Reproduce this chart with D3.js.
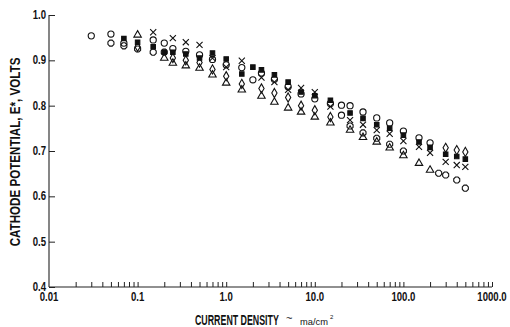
<!DOCTYPE html>
<html>
<head>
<meta charset="utf-8">
<script src="https://cdn.jsdelivr.net/npm/d3@7"></script>
<style>
  html, body { margin: 0; padding: 0; background: #fff; }
  svg { display: block; }
  .lbl { font-family: "Liberation Sans", Arial, sans-serif; font-weight: bold; fill: #111; }
  .unit { font-family: "Liberation Sans", Arial, sans-serif; fill: #111; }
</style>
</head>
<body>
<svg id="chart" width="510" height="327"></svg>
<script>
// Polarization data: cathode potential (V) versus current density (mA/cm²)
const xTickValues = [0.01, 0.1, 1, 10, 100, 1000];
const xTickLabels = ["0.01", "0.1", "1.0", "10.0", "100.0", "1000.0"];
const yTickValues = [0.4, 0.5, 0.6, 0.7, 0.8, 0.9, 1.0];
const yTickLabels = ["0.4", "0.5", "0.6", "0.7", "0.8", "0.9", "1.0"];

const circleX = [0.03, 0.05, 0.07, 0.15, 0.2, 0.25, 0.35, 0.5, 0.7, 1, 1.5, 2, 2.5, 3.5, 5, 7, 10, 15, 20, 20, 25, 35, 50, 70, 100, 150, 200];
const circleY = [0.954, 0.958, 0.938, 0.945, 0.938, 0.926, 0.920, 0.912, 0.902, 0.890, 0.884, 0.857, 0.872, 0.858, 0.842, 0.826, 0.815, 0.805, 0.801, 0.779, 0.800, 0.786, 0.773, 0.762, 0.744, 0.729, 0.718];

const squareX = [0.07, 0.1, 0.15, 0.2, 0.25, 0.35, 0.5, 0.7, 1, 1.5, 2, 2.5, 3.5, 5, 7, 10, 15, 25, 35, 50, 70, 100, 150, 200, 300, 400, 500];
const squareY = [0.948, 0.940, 0.930, 0.918, 0.918, 0.914, 0.905, 0.916, 0.903, 0.870, 0.885, 0.879, 0.868, 0.852, 0.830, 0.822, 0.812, 0.784, 0.772, 0.758, 0.750, 0.735, 0.720, 0.708, 0.693, 0.688, 0.682];

const crossX = [0.15, 0.25, 0.35, 0.5, 0.7, 1, 1.5, 2.5, 3.5, 5, 7, 10, 15, 25, 35, 50, 70, 100, 150, 200, 300, 400, 500];
const crossY = [0.962, 0.949, 0.940, 0.934, 0.905, 0.885, 0.899, 0.862, 0.852, 0.835, 0.839, 0.830, 0.798, 0.768, 0.758, 0.746, 0.738, 0.722, 0.709, 0.696, 0.676, 0.669, 0.665];

const diamondX = [0.1, 0.25, 0.35, 0.5, 0.7, 1, 1.5, 2.5, 3.5, 5, 7, 10, 15, 300, 400, 500];
const diamondY = [0.930, 0.905, 0.900, 0.895, 0.880, 0.865, 0.848, 0.838, 0.828, 0.818, 0.800, 0.790, 0.775, 0.707, 0.702, 0.698];

const triangleX = [0.1, 0.2, 0.25, 0.35, 0.5, 0.7, 1, 1.5, 2.5, 3.5, 5, 7, 10, 15, 25, 35, 50, 70, 100, 150, 200];
const triangleY = [0.956, 0.905, 0.894, 0.888, 0.883, 0.868, 0.850, 0.835, 0.821, 0.808, 0.795, 0.786, 0.775, 0.762, 0.746, 0.730, 0.720, 0.707, 0.690, 0.673, 0.658];

const octagonX = [0.05, 0.07, 0.1, 0.15, 0.2, 25, 35, 50, 70, 100, 250, 300, 400, 500];
const octagonY = [0.938, 0.932, 0.925, 0.918, 0.918, 0.755, 0.740, 0.728, 0.715, 0.700, 0.651, 0.647, 0.636, 0.618];

// open octagon marker
const symbolOctagon = {
  draw(context, size) {
    const r = Math.sqrt(size / 2.83);
    for (let i = 0; i < 8; i++) {
      const a = Math.PI / 8 + i * Math.PI / 4;
      const px = r * Math.cos(a), py = r * Math.sin(a);
      if (i === 0) context.moveTo(px, py); else context.lineTo(px, py);
    }
    context.closePath();
  }
};

const series = [
  { xs: circleX,   ys: circleY,   type: d3.symbolCircle,   size: 30, fill: "none" },
  { xs: squareX,   ys: squareY,   type: d3.symbolSquare,   size: 20, fill: "#111" },
  { xs: crossX,    ys: crossY,    type: d3.symbolTimes,    size: 26, fill: "none" },
  { xs: diamondX,  ys: diamondY,  type: d3.symbolDiamond,  size: 24, fill: "none" },
  { xs: triangleX, ys: triangleY, type: d3.symbolTriangle, size: 24, fill: "none" },
  { xs: octagonX,  ys: octagonY,  type: symbolOctagon,     size: 30, fill: "none" }
];

const svg = d3.select("#chart");
const x = d3.scaleLog().domain([0.01, 1000]).range([49, 492]);
const y = d3.scaleLinear().domain([0.4, 1.0]).range([287, 15]);

// place a text at (px, py), squeezed horizontally to a condensed look
function placeCondensed(el, px, py, factor, rotate) {
  el.attr("x", 0).attr("y", 0)
    .attr("transform", `translate(${px},${py})${rotate ? ` rotate(${rotate})` : ""} scale(${factor},1)`);
}

// axes: inward ticks, minor log ticks along the bottom
const minorTicks = [];
[0.01, 0.1, 1, 10, 100].forEach(d => { for (let k = 2; k <= 10; k++) minorTicks.push(d * k); });

const xAxis = svg.append("g").attr("transform", "translate(0,287)")
  .call(d3.axisBottom(x).tickValues(minorTicks).tickSize(-5).tickFormat(""));
xAxis.select(".domain").attr("d", `M49,0H${x(1000)}`).attr("stroke", "#222").attr("stroke-width", 1.1);
xAxis.selectAll("line").attr("stroke", "#222").attr("stroke-width", 1);

const yAxis = svg.append("g").attr("transform", "translate(49,0)")
  .call(d3.axisLeft(y).tickValues(yTickValues).tickSize(-6).tickFormat(""));
yAxis.select(".domain").attr("d", `M0,${y(1.0)}V${y(0.4)}`).attr("stroke", "#222").attr("stroke-width", 1.1);
yAxis.selectAll("line").attr("stroke", "#222").attr("stroke-width", 1);

// tick labels
svg.append("g").selectAll("text").data(xTickValues).join("text")
  .attr("class", "lbl")
  .attr("text-anchor", "middle")
  .attr("font-size", 12)
  .text((d, i) => xTickLabels[i])
  .each(function (d) { placeCondensed(d3.select(this), x(d), 301, 0.8); });

svg.append("g").selectAll("text").data(yTickValues).join("text")
  .attr("class", "lbl")
  .attr("text-anchor", "end")
  .attr("font-size", 12)
  .text((d, i) => yTickLabels[i])
  .each(function (d) { placeCondensed(d3.select(this), 46, y(d) + 4, 0.8); });

// axis titles
const yTitle = svg.append("text").attr("class", "lbl")
  .attr("text-anchor", "middle")
  .attr("font-size", 15)
  .text("CATHODE POTENTIAL, E*, VOLTS");
placeCondensed(yTitle, 20, 152, 189 / yTitle.node().getComputedTextLength(), -90);

const xTitle = svg.append("text").attr("class", "lbl")
  .attr("font-size", 14)
  .text("CURRENT DENSITY");
placeCondensed(xTitle, 195, 325, 84 / xTitle.node().getComputedTextLength());

svg.append("text").attr("class", "unit")
  .attr("x", 286).attr("y", 322).attr("font-size", 11).text("~");
const unit = svg.append("text").attr("class", "unit")
  .attr("font-size", 9)
  .text("ma/cm");
placeCondensed(unit, 300, 325, 28 / unit.node().getComputedTextLength());
svg.append("text").attr("class", "unit")
  .attr("x", 330).attr("y", 319).attr("font-size", 6).text("2");

// markers
const marks = svg.append("g");
series.forEach(s => {
  const pts = s.xs.map((v, i) => [v, s.ys[i]]);
  marks.append("g").selectAll("path").data(pts).join("path")
    .attr("transform", d => `translate(${x(d[0])},${y(d[1])})`)
    .attr("d", d3.symbol().type(s.type).size(s.size))
    .attr("fill", s.fill)
    .attr("stroke", "#111")
    .attr("stroke-width", 1.1);
});
</script>
</body>
</html>
